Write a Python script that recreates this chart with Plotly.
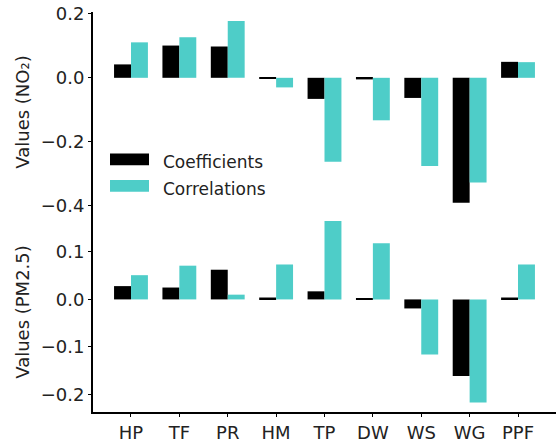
import plotly.graph_objects as go
from plotly.subplots import make_subplots

categories = ["HP", "TF", "PR", "HM", "TP", "DW", "WS", "WG", "PPF"]
no2_coefficients = [0.042, 0.101, 0.098, -0.002, -0.066, -0.005, -0.063, -0.391, 0.050]
no2_correlations = [0.111, 0.127, 0.178, -0.030, -0.263, -0.133, -0.276, -0.328, 0.049]
pm25_coefficients = [0.028, 0.025, 0.0625, 0.004, 0.017, 0.002, -0.019, -0.161, 0.004]
pm25_correlations = [0.051, 0.071, 0.010, 0.0735, 0.165, 0.118, -0.116, -0.217, 0.0735]
no2_ticks = [-0.4, -0.2, 0.0, 0.2]
pm25_ticks = [-0.2, -0.1, 0.0, 0.1]
series_names = ["Coefficients", "Correlations"]

BLACK = "#000000"
CYAN = "#4ECDC8"
FONT = "DejaVu Sans"
TXT = "#222222"

fig = make_subplots(rows=2, cols=1, shared_xaxes=True, vertical_spacing=0)

for row, (coef, corr) in enumerate([(no2_coefficients, no2_correlations),
                                    (pm25_coefficients, pm25_correlations)], start=1):
    fig.add_trace(go.Bar(x=categories, y=coef, marker=dict(color=BLACK, line=dict(width=0)),
                         name=series_names[0], showlegend=False), row=row, col=1)
    fig.add_trace(go.Bar(x=categories, y=corr, marker=dict(color=CYAN, line=dict(width=0)),
                         name=series_names[1], showlegend=False), row=row, col=1)

# legend entries (text from legend; swatches drawn as wide patches below)
for i, name in enumerate(series_names):
    fig.add_trace(go.Scatter(x=[None], y=[None], mode="lines",
                             line=dict(color="rgba(0,0,0,0)", width=0),
                             name=name, legendgroup=name, showlegend=True), row=1, col=1)

# legend patches (paper coords)
plot_l, plot_w, plot_b, plot_h = 93, 463, 419, 407
def px2paper_x(px):
    return (px - plot_l) / plot_w
def px2paper_y(py):
    return (plot_b - py) / plot_h
for color, (y0, y1) in zip([BLACK, CYAN], [(156, 168), (183, 195)]):
    fig.add_shape(type="rect", xref="paper", yref="paper",
                  x0=px2paper_x(110), x1=px2paper_x(149),
                  y0=px2paper_y(y1), y1=px2paper_y(y0),
                  fillcolor=color, line=dict(width=0))

fig.update_layout(
    width=558, height=445,
    margin=dict(l=93, r=2, t=12, b=26),
    paper_bgcolor="white", plot_bgcolor="white",
    barmode="group", bargap=0.3, bargroupgap=0,
    font=dict(family=FONT, size=17, color=TXT),
    legend=dict(x=px2paper_x(123), y=px2paper_y(146), xanchor="left", yanchor="top",
                font=dict(size=17, color=TXT, family=FONT), bgcolor="rgba(0,0,0,0)",
                traceorder="grouped", tracegroupgap=2),
)

common_x = dict(type="category", range=[-0.785, 8.785], showgrid=False, zeroline=False)
fig.update_xaxes(**common_x, showline=False, showticklabels=False, ticks="", row=1, col=1)
fig.update_xaxes(**common_x, showline=True, linecolor="black", linewidth=2,
                 ticks="outside", ticklen=3, tickwidth=1, tickcolor="black",
                 tickfont=dict(size=18, family=FONT, color=TXT), row=2, col=1)

common_y = dict(showgrid=False, zeroline=False, showline=True, linecolor="black", linewidth=2,
                ticks="outside", ticklen=3, tickwidth=1, tickcolor="black",
                tickformat=".1f", tickfont=dict(size=18, family=FONT, color=TXT),
                automargin=False)
fig.update_yaxes(**common_y, range=[-0.42, 0.206], tickvals=no2_ticks,
                 title=dict(text="Values (NO₂)", font=dict(size=18, family=FONT, color=TXT), standoff=6),
                 row=1, col=1)
fig.update_yaxes(**common_y, range=[-0.237, 0.184], tickvals=pm25_ticks,
                 title=dict(text="Values (PM2.5)", font=dict(size=18, family=FONT, color=TXT), standoff=6),
                 row=2, col=1)

fig.write_html("out.html")
